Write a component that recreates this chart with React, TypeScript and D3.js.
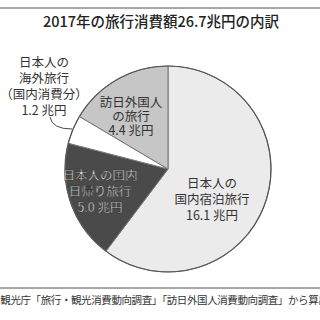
import React from "react";
import * as d3 from "d3";

const categories = ["日本人の国内宿泊旅行", "日本人の国内日帰り旅行", "日本人の海外旅行（国内消費分）", "訪日外国人の旅行"];
const values = [16.1, 5.0, 1.2, 4.4];
const colors = ["#ebebeb", "#4a4a4a", "#ffffff", "#c6c6c6"];
const title = "2017年の旅行消費額26.7兆円の内訳";
const source = "出所：観光庁「旅行・観光消費動向調査」「訪日外国人消費動向調査」から算出";

const labelLines = [
  ["日本人の", "国内宿泊旅行", "16.1 兆円"],
  ["日本人の国内", "日帰り旅行", "5.0 兆円"],
  ["日本人の", "海外旅行", "（国内消費分）", "1.2 兆円"],
  ["訪日外国人", "の旅行", "4.4 兆円"],
];

const FONT = "'Noto Sans CJK JP', 'Noto Sans', sans-serif";

export default function App() {
  const W = 320, H = 320;
  const cx = 168, cy = 169, r = 103;
  const pie = d3.pie<number>().sort(null).value((d) => d)(values);
  const arc = d3.arc<d3.PieArcDatum<number>>().innerRadius(0).outerRadius(r);

  const labelPos: [number, number, number][] = [
    [212, 188, 16],
    [100, 180, 16],
    [44, 67, 16],
    [131, 107, 14],
  ];

  return (
    <svg width={W} height={H} style={{ position: "absolute", left: 0, top: 0, background: "#fff" }}>
      <line x1={0} x2={W} y1={8} y2={8} stroke="#888" strokeWidth={1.5} />
      <text x={161} y={27} textAnchor="middle" fontFamily={FONT} fontSize={14.5} fontWeight={500} fill="#222">
        {title}
      </text>
      <g transform={`translate(${cx},${cy})`}>
        {pie.map((p, i) => (
          <path key={i} d={arc(p) || ""} fill={colors[i]} stroke="#777" strokeWidth={1} />
        ))}
        <circle r={r} fill="none" stroke="#555" strokeWidth={1.2} />
      </g>
      <path d="M50,117 Q52,129 72,129" fill="none" stroke="#333" strokeWidth={0.9} />
      {labelLines.map((lines, i) => {
        const [x, y, dy] = labelPos[i];
        const dark = i === 1;
        return lines.map((l, j) => (
          <text key={`${i}-${j}`} x={x} y={y + j * dy} textAnchor="middle" fontFamily={FONT} fontSize={12.5}
            fill={dark ? "#fff" : "#333"} stroke={dark ? "#222" : "none"} strokeWidth={dark ? 0.4 : 0}>
            {l}
          </text>
        ));
      })}
      <line x1={0} x2={W} y1={288} y2={288} stroke="#888" strokeWidth={1.5} />
      <text x={-30} y={304} fontFamily={FONT} fontSize={10.5} letterSpacing={-0.4} fill="#333">{source}</text>
    </svg>
  );
}
